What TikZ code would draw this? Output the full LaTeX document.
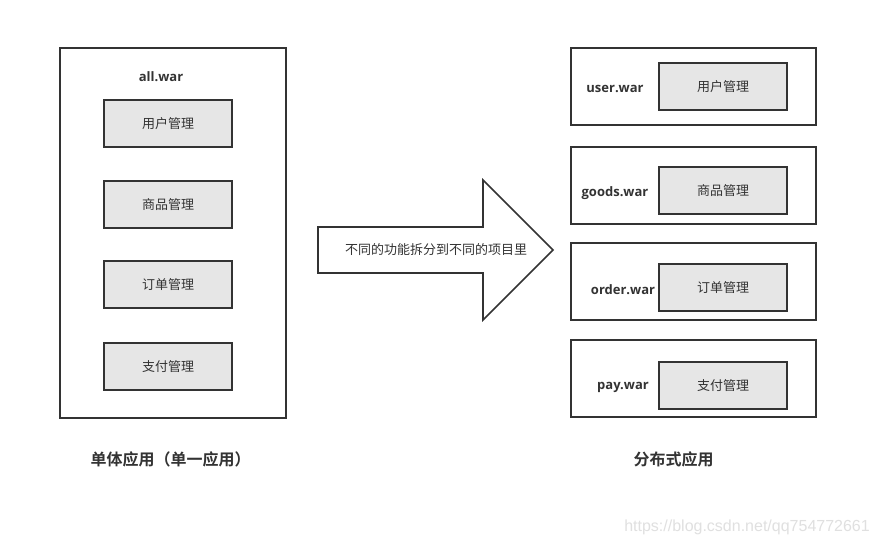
\documentclass[tikz,border=0pt]{standalone}
\usepackage{fontspec}
\setmainfont{Open Sans}
\newfontfamily\cjk{Noto Sans CJK SC}
\newfontfamily\cjkb{Noto Sans CJK SC Bold}
\newfontfamily\latb{Open Sans Bold}
\newfontfamily\wm{Liberation Sans}
\definecolor{ln}{HTML}{333333}
\definecolor{fl}{HTML}{E6E6E6}
\tikzset{
  outer/.style={draw=ln, line width=1.6pt, fill=white, inner sep=0pt},
  inner/.style={draw=ln, line width=1.6pt, fill=fl, minimum width=128pt, minimum height=47pt, inner sep=0pt, font=\cjk\fontsize{13}{15}\selectfont, text=ln},
  warlbl/.style={font=\latb\fontsize{13}{15}\selectfont, text=ln, inner sep=0pt},
  title/.style={font=\cjkb\fontsize{16}{19}\selectfont, text=ln, inner sep=0pt}
}
\begin{document}
\begin{tikzpicture}[x=1pt,y=-1pt]
\useasboundingbox[fill=white] (0,0) rectangle (877,546);
% left
\node[outer, minimum width=226pt, minimum height=370pt] (all) at (173,233) {};
\node[warlbl] (allw) at (161,76.5) {all.war};
\node[inner] (l1) at (168,123.5) {用户管理};
\node[inner] (l2) at (168,204.5) {商品管理};
\node[inner] (l3) at (168,284.5) {订单管理};
\node[inner] (l4) at (168,366.5) {支付管理};
% right
\node[outer, minimum width=245pt, minimum height=77pt] (r1) at (693.5,86.5) {};
\node[outer, minimum width=245pt, minimum height=77pt] (r2) at (693.5,185.5) {};
\node[outer, minimum width=245pt, minimum height=77pt] (r3) at (693.5,281.5) {};
\node[outer, minimum width=245pt, minimum height=77pt] (r4) at (693.5,378.5) {};
\node[inner] (ri1) at (723,86.5) {用户管理};
\node[inner] (ri2) at (723,190.5) {商品管理};
\node[inner] (ri3) at (723,287.5) {订单管理};
\node[inner] (ri4) at (723,385.5) {支付管理};
\node[warlbl] (w1) at (615,88.5) {user.war};
\node[warlbl] (w2) at (615,193.5) {goods.war};
\node[warlbl] (w3) at (623,289.5) {order.war};
\node[warlbl] (w4) at (623,387.5) {pay.war};
% arrow
\draw[ln, line width=1.6pt, line join=miter, fill=white]
  (318,227) -- (483,227) -- (483,180) -- (553,250) -- (483,320) -- (483,273) -- (318,273) -- cycle;
\node[font=\cjk\fontsize{13}{15}\selectfont, text=ln, inner sep=0pt] (at) at (436,250) {不同的功能拆分到不同的项目里};
% titles
\node[title] (t1) at (170.5,459) {单体应用（单一应用）};
\node[title] (t2) at (673.5,459) {分布式应用};
% watermark
\node[font=\wm\fontsize{16}{18}\selectfont, text=black!12, inner sep=0pt, anchor=east] (wmk) at (870,527) {https://blog.csdn.net/qq754772661};
\end{tikzpicture}
\end{document}
